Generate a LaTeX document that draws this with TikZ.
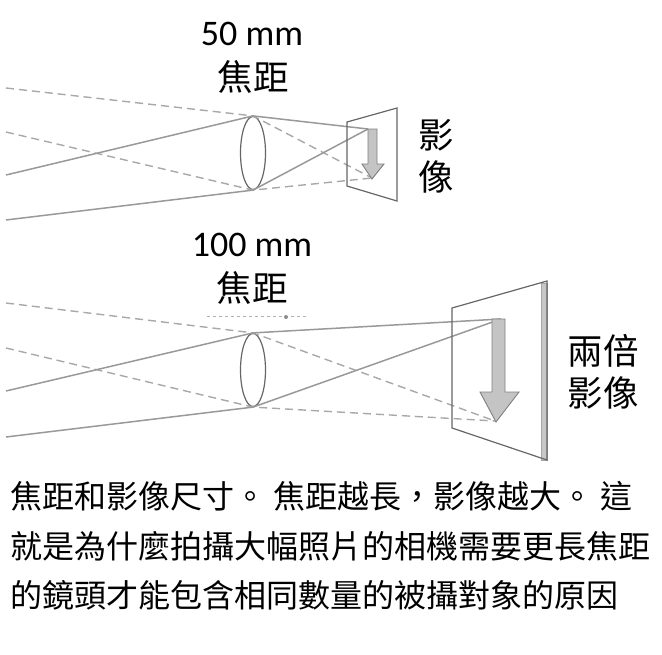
\documentclass[tikz,border=0pt]{standalone}
\usepackage{fontspec}
\setmainfont{Carlito}
\newfontfamily\cjkfont{Noto Sans CJK TC}
\usepackage{tikz}
\usetikzlibrary{shapes.geometric, positioning, calc}
\definecolor{raygray}{gray}{0.6}
\definecolor{arrowgray}{gray}{0.77}
\tikzset{
	lens/.style={ellipse, draw=black!60, line width=1.2pt, minimum width=25pt, minimum height=73pt, inner sep=0pt},
	ray_solid/.style={draw=raygray, line width=1.5pt},
	ray_dashed/.style={draw=raygray!85, line width=1.4pt, dash pattern=on 8pt off 5pt},
	screen/.style={draw=black!60, line width=1.2pt, line join=miter},
	screen_edge/.style={draw=black!35, fill=black!22, line width=0.8pt},
	image_arrow/.style={draw=black!50, fill=arrowgray, line width=0.9pt, line join=miter},
	stray_dots/.style={draw=black!30, line width=0.8pt, dash pattern=on 3pt off 3pt},
	mm_label/.style={font=\fontsize{36}{36}\selectfont, inner sep=0pt},
	cjk_label/.style={font=\cjkfont\fontsize{35.5}{35.5}\selectfont, inner sep=0pt},
	caption_line/.style={anchor=west, font=\cjkfont\fontsize{32}{32}\selectfont, inner sep=0pt}
}
\begin{document}
\begin{tikzpicture}[x=1pt, y=-1pt]
	\useasboundingbox (0,0) rectangle (662,654);
	% upper lens
	\node[lens] (lens1) at (253,153) {};
	\coordinate (a1) at (6,88);
	\coordinate (b1) at (6,132);
	\coordinate (c1) at (6,175);
	\coordinate (d1) at (6,220);
	\coordinate (top1) at (368,129);
	\coordinate (tip1) at (372,178);
	\draw[ray_dashed] (a1) -- (lens1.north) -- (tip1);
	\draw[ray_dashed] (b1) -- (lens1.south) -- (tip1);
	\draw[ray_solid] (c1) -- (lens1.north) -- (top1);
	\draw[ray_solid] (d1) -- (lens1.south) -- (top1);
	\draw[screen] (347,122) -- (397,108) -- (397,201) -- (347,186) -- cycle;
	\draw[image_arrow] (368,129) -- (377,129) -- (377,164) -- (384,164) -- (372,179) -- (362,164) -- (368,164) -- cycle;
	\node[mm_label] (title1) at (252,34) {50 mm};
	\node[cjk_label] (focal1) at (253,77) {焦距};
	\node[cjk_label] (img1a) at (436,135) {影};
	\node[cjk_label] (img1b) at (436,177) {像};
	% lower lens
	\node[lens] (lens2) at (253,370) {};
	\coordinate (a2) at (6,303);
	\coordinate (b2) at (6,348);
	\coordinate (c2) at (6,391);
	\coordinate (d2) at (6,437);
	\coordinate (top2) at (501,319);
	\coordinate (tip2) at (495,421);
	\draw[stray_dots] (207,316) -- (307,316);
	\fill[black!45] (286,317) circle (2pt);
	\draw[ray_dashed] (a2) -- (lens2.north) -- (tip2);
	\draw[ray_dashed] (b2) -- (lens2.south) -- (tip2);
	\draw[ray_solid] (c2) -- (lens2.north) -- (top2);
	\draw[ray_solid] (d2) -- (lens2.south) -- (top2);
	\draw[screen_edge] (541,283) rectangle (547,460);
	\draw[screen] (452,308) -- (547,281) -- (547,460) -- (452,428) -- cycle;
	\draw[image_arrow] (492,319) -- (505,319) -- (505,392) -- (519,392) -- (496,422) -- (480,392) -- (492,392) -- cycle;
	\node[mm_label] (title2) at (252,245) {100 mm};
	\node[cjk_label] (focal2) at (252,288) {焦距};
	\node[cjk_label] (img2a) at (603,351) {兩倍};
	\node[cjk_label] (img2b) at (603,393) {影像};
	% caption
	\node[caption_line] (cap1) at (10,496) {焦距和影像尺寸。 焦距越長，影像越大。 這};
	\node[caption_line] (cap2) at (10,546) {就是為什麼拍攝大幅照片的相機需要更長焦距};
	\node[caption_line] (cap3) at (10,595) {的鏡頭才能包含相同數量的被攝對象的原因};
\end{tikzpicture}
\end{document}
